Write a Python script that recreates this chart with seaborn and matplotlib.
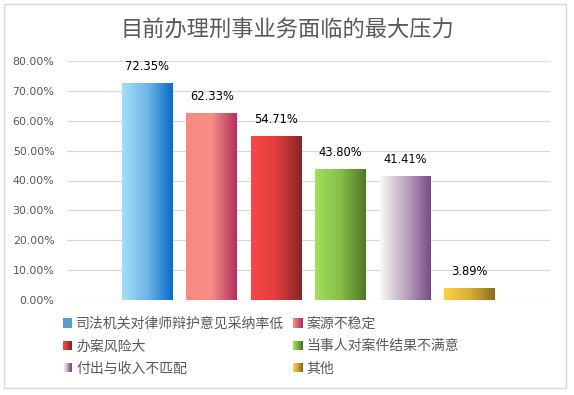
import numpy as np
import matplotlib
matplotlib.use("Agg")
import matplotlib.pyplot as plt
import seaborn as sns
from matplotlib.colors import LinearSegmentedColormap, to_rgb
from matplotlib.patches import Rectangle
from matplotlib.legend_handler import HandlerBase
from matplotlib.ticker import PercentFormatter, MultipleLocator

# 数据
categories = ["司法机关对律师辩护意见采纳率低", "案源不稳定", "办案风险大",
              "当事人对案件结果不满意", "付出与收入不匹配", "其他"]
values = [0.7235, 0.6233, 0.5471, 0.4380, 0.4141, 0.0389]
labels = ["72.35%", "62.33%", "54.71%", "43.80%", "41.41%", "3.89%"]
title = "目前办理刑事业务面临的最大压力"

# 渐变色 (左, 中, 右)
grads = [("#A2DFF9", "#6FB6E6", "#0A69C9"),
         ("#FA8980", "#F48E84", "#B2305E"),
         ("#FA4646", "#E03D3D", "#862626"),
         ("#A2E05A", "#86BE48", "#4F7828"),
         ("#FBF9F5", "#BDA6BF", "#784C86"),
         ("#FDD242", "#D8B034", "#8A6E1E")]

sns.set_style("white")
plt.rcParams["font.family"] = ["Noto Sans CJK SC", "DejaVu Sans"]

fig = plt.figure(figsize=(5.74, 3.95), dpi=100)
ax = fig.add_axes([67 / 574, 1 - 300 / 395, 483 / 574, 239 / 395])

sns.barplot(x=categories, y=values, hue=categories, palette=[g[2] for g in grads],
            width=0.79, legend=False, ax=ax, zorder=2)

# 用渐变覆盖柱子
for p, g in zip(ax.patches, grads):
    x0, w, h = p.get_x(), p.get_width(), p.get_height()
    cmap = LinearSegmentedColormap.from_list("g", [(0, g[0]), (0.5, g[1]), (1, g[2])])
    grad = np.linspace(0, 1, 256).reshape(1, -1)
    ax.imshow(grad, cmap=cmap, extent=[x0, x0 + w, 0, h], aspect="auto", zorder=3)
    p.set_alpha(0)

for i, (v, lab) in enumerate(zip(values, labels)):
    ax.annotate(lab, (i, v), xytext=(0, 7.5), textcoords="offset points",
                ha="center", va="bottom", fontsize=8.3, family="DejaVu Sans", color="#000000")

ax.set_xlim(-1.25, 6.25)
ax.set_ylim(0, 0.8)
ax.yaxis.set_major_locator(MultipleLocator(0.1))
ax.yaxis.set_major_formatter(PercentFormatter(xmax=1, decimals=2))
ax.set_xticks([])
ax.set_xlabel("")
ax.set_ylabel("")
ax.grid(axis="y", color="#D9D9D9", linewidth=0.9, zorder=0)
ax.set_axisbelow(True)
for s in ax.spines.values():
    s.set_visible(False)
ax.tick_params(axis="y", length=0, pad=9, labelsize=7.9, labelcolor="#595959")
for t in ax.get_yticklabels():
    t.set_family("DejaVu Sans")

fig.text(0.5, 1 - 30 / 395, title, ha="center", va="center", fontsize=16, color="#595959")

# 图例（渐变小方块）
class GradHandler(HandlerBase):
    def __init__(self, c0, c1):
        super().__init__()
        self.c0, self.c1 = np.array(to_rgb(c0)), np.array(to_rgb(c1))

    def create_artists(self, legend, orig, xd, yd, w, h, fontsize, trans):
        n = 10
        arts = []
        for k in range(n):
            c = self.c0 + (self.c1 - self.c0) * k / (n - 1)
            arts.append(Rectangle((-xd + w * k / n, -yd), w / n + 0.2, h,
                                  fc=c, ec="none", transform=trans))
        return arts

handles, hmap = [], {}
for i, g in enumerate(grads):
    h = Rectangle((0, 0), 1, 1)
    handles.append(h)
    hmap[h] = GradHandler("#5B9BD5", "#5B9BD5") if i == 0 else GradHandler(g[0], g[2])

order = [0, 2, 4, 1, 3, 5]
fig.legend([handles[i] for i in order], [categories[i] for i in order], handler_map=hmap,
           loc="upper left", bbox_to_anchor=(63 / 574, 1 - 317 / 395), ncol=2, frameon=False,
           fontsize=10, labelcolor="#595959", handlelength=0.65, handleheight=0.65,
           handletextpad=0.3, columnspacing=0.65, labelspacing=0.6, borderpad=0, borderaxespad=0)

fig.add_artist(Rectangle((4 / 574, 1 - 388 / 395), 562 / 574, 384 / 395,
                         transform=fig.transFigure, fill=False, ec="#D9D9D9", lw=1))

fig.savefig("out.png", dpi=100)
